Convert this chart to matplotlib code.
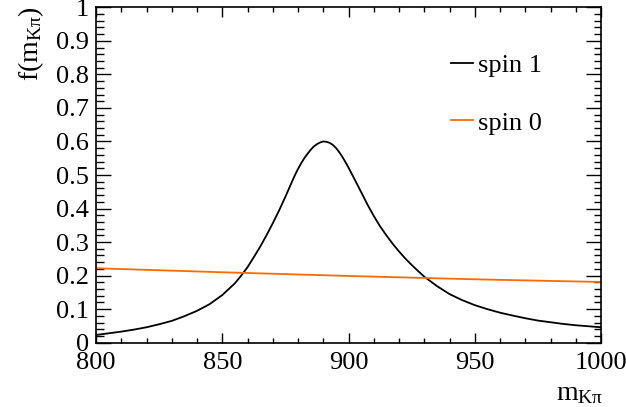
import matplotlib
matplotlib.use("Agg")
import matplotlib.pyplot as plt
from matplotlib.ticker import MultipleLocator, FormatStrFormatter

# ---- data ----
m_spin1 = [800, 805, 810, 815, 820, 825, 830, 835, 840, 845, 850, 855, 857.5, 860,
           862.5, 865, 867.5, 870, 872.5, 875, 877.5, 878.75, 880, 881.25, 882.5,
           883.75, 885, 886.25, 887.5, 888.75, 890, 891.25, 892.5, 893.75, 895,
           896.25, 897.5, 898.75, 900, 901.25, 902.5, 905, 907.5, 910, 912.5, 915,
           917.5, 920, 922.5, 925, 927.5, 930, 935, 940, 945, 950, 955, 960, 965,
           970, 975, 980, 985, 990, 995, 1000]
f_spin1 = [0.023, 0.028, 0.033, 0.039, 0.046, 0.055, 0.065, 0.079, 0.095, 0.115,
           0.142, 0.177, 0.200, 0.225, 0.255, 0.286, 0.320, 0.356, 0.394, 0.435,
           0.478, 0.499, 0.518, 0.535, 0.550, 0.563, 0.575, 0.585, 0.592, 0.597,
           0.600, 0.599, 0.596, 0.590, 0.581, 0.569, 0.555, 0.539, 0.522, 0.504,
           0.486, 0.449, 0.412, 0.378, 0.347, 0.320, 0.295, 0.272, 0.251, 0.232,
           0.214, 0.197, 0.169, 0.145, 0.127, 0.112, 0.100, 0.0895, 0.081, 0.073,
           0.066, 0.061, 0.056, 0.052, 0.049, 0.046]

m_spin0 = [800, 850, 900, 950, 1000]
f_spin0 = [0.222, 0.210, 0.199, 0.189, 0.181]

labels = ["spin 1", "spin 0"]
x_range = (800, 1000)
y_range = (0, 1)

# ---- style ----
plt.rcParams['font.family'] = ['Liberation Serif', 'DejaVu Serif']
plt.rcParams['mathtext.fontset'] = 'custom'
plt.rcParams['mathtext.rm'] = 'Liberation Serif'
plt.rcParams['mathtext.it'] = 'Liberation Serif:italic'
FS = 19
FT = 20

fig = plt.figure(figsize=(6.26, 4.07), dpi=100)
ax = fig.add_axes([96/626, 1 - 342.7/407, (601-96)/626, (342.7-7.3)/407])

ax.plot(m_spin1, f_spin1, color='black', lw=1.3, label=labels[0])
ax.plot(m_spin0, f_spin0, color='#ff6a00', lw=1.3, label=labels[1])

ax.set_xlim(*x_range)
ax.set_ylim(*y_range)

ax.xaxis.set_major_locator(MultipleLocator(50))
ax.xaxis.set_minor_locator(MultipleLocator(10))
ax.yaxis.set_major_locator(MultipleLocator(0.1))
ax.yaxis.set_minor_locator(MultipleLocator(0.02))
ax.yaxis.set_major_formatter(FormatStrFormatter('%g'))
ax.xaxis.set_major_formatter(FormatStrFormatter('%g'))

ax.tick_params(axis='both', which='both', direction='in', top=True, right=True,
               labelsize=FS, color='black', width=1)
ax.tick_params(axis='x', which='major', length=7.2, pad=7)
ax.tick_params(axis='x', which='minor', length=3.6)
ax.tick_params(axis='y', which='major', length=10.8, pad=5)
ax.tick_params(axis='y', which='minor', length=5.4)
for s in ax.spines.values():
    s.set_linewidth(1.2)

fig.text(31/626, 1 - 6/407, r'f(m$_{\mathrm{K\pi}}$)', rotation=90,
         ha='center', va='top', fontsize=FT)
fig.text(603/626, 1 - 406/407, r'm$_{\mathrm{K\pi}}$', ha='right', va='bottom',
         fontsize=FT)

leg = ax.legend(loc='upper left', bbox_to_anchor=(451/626, 1 - 54/407),
                bbox_transform=fig.transFigure, frameon=False, fontsize=FS,
                handlelength=0.83, handletextpad=0.19, labelspacing=1.28,
                borderpad=0, borderaxespad=0)

fig.savefig('out.png', dpi=100)
